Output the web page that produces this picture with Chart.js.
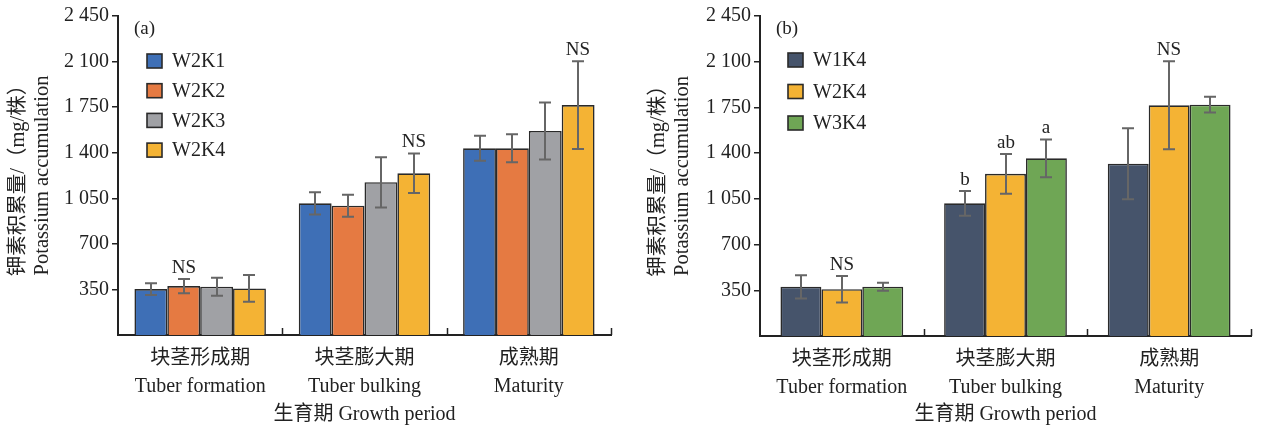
<!DOCTYPE html>
<html>
<head>
<meta charset="utf-8">
<script src="https://cdn.jsdelivr.net/npm/chart.js@4/dist/chart.umd.min.js"></script>
<style>
  html, body { margin: 0; padding: 0; background: #fff; }
  #wrap { position: relative; width: 1261px; height: 430px; overflow: hidden; }
  .panel { position: absolute; top: 0; height: 430px; }
  canvas { display: block; }
</style>
</head>
<body>
<div id="wrap">
  <div class="panel" style="left:0;width:630px"><canvas id="chartA" width="630" height="430"></canvas></div>
  <div class="panel" style="left:640px;width:621px"><canvas id="chartB" width="621" height="430"></canvas></div>
</div>
<script>
// Growth periods (x categories) and y-axis ticks
const periods = [['块茎形成期', 'Tuber formation'], ['块茎膨大期', 'Tuber bulking'], ['成熟期', 'Maturity']];
const yTicks = [350, 700, 1050, 1400, 1750, 2100, 2450];

// Potassium accumulation (mg/plant): means and error half-widths per treatment
const meanW2K1 = [353, 1011, 1434];
const errW2K1  = [45, 85, 96];
const meanW2K2 = [376, 993, 1434];
const errW2K2  = [55, 85, 107];
const meanW2K3 = [371, 1173, 1567];
const errW2K3  = [69, 193, 219];
const meanW2K4 = [358, 1242, 1766];
const errW2K4  = [102, 152, 337];
const meanW1K4 = [377, 1016, 1319];
const errW1K4  = [89, 95, 272];
const meanW3K4 = [377, 1360, 1771];
const errW3K4  = [31, 145, 60];

// Significance letters written above the bars
const sigA_W2K1 = ['', '', ''];
const sigA_W2K2 = ['NS', '', ''];
const sigA_W2K3 = ['', '', ''];
const sigA_W2K4 = ['', 'NS', 'NS'];
const sigB_W1K4 = ['', 'b', ''];
const sigB_W2K4 = ['NS', 'ab', 'NS'];
const sigB_W3K4 = ['', 'a', ''];

const COLORS = {
  W2K1: '#3e6fb6', W2K2: '#e57a42', W2K3: '#a0a1a5', W2K4: '#f4b334',
  W1K4: '#46546b', W3K4: '#6fa655'
};

const FONT = "'Liberation Serif', 'Noto Sans CJK SC', serif";
const INK = '#222';
Chart.defaults.font.family = FONT;
Chart.defaults.color = INK;

function ds(label, data, errors, letters) {
  return {
    label, data, errors, letters,
    backgroundColor: COLORS[label],
    borderColor: '#2a2a2a',
    borderWidth: 1.6
  };
}

function fmt(v) {
  return String(v).replace(/\B(?=(\d{3})+(?!\d))/g, ' ');
}

// Draws error bars, significance letters, inner x ticks, legend and panel tag
const decorations = {
  id: 'decorations',
  afterDatasetsDraw(chart, args, opts) {
    const { ctx, chartArea, scales: { x, y } } = chart;
    ctx.save();

    // short upward ticks on the x axis at category boundaries
    const n = chart.data.labels.length;
    const half = (x.getPixelForValue(1) - x.getPixelForValue(0)) / 2;
    ctx.strokeStyle = INK;
    ctx.lineWidth = 1.5;
    for (let i = 1; i <= n; i++) {
      const px = Math.round(x.getPixelForValue(i - 1) + half) + 0.5;
      ctx.beginPath();
      ctx.moveTo(px, chartArea.bottom);
      ctx.lineTo(px, chartArea.bottom - 7);
      ctx.stroke();
    }

    // error bars and letters
    chart.data.datasets.forEach((d, di) => {
      const meta = chart.getDatasetMeta(di);
      meta.data.forEach((bar, i) => {
        const v = d.data[i], e = d.errors[i];
        const yt = y.getPixelForValue(v + e);
        const yb = y.getPixelForValue(v - e);
        const bx = Math.round(bar.x);
        ctx.strokeStyle = '#666';
        ctx.lineWidth = 2;
        ctx.beginPath();
        ctx.moveTo(bx, yt); ctx.lineTo(bx, yb);
        ctx.moveTo(bx - 6, yt); ctx.lineTo(bx + 6, yt);
        ctx.moveTo(bx - 6, yb); ctx.lineTo(bx + 6, yb);
        ctx.stroke();
        const t = d.letters[i];
        if (t) {
          ctx.fillStyle = INK;
          ctx.font = `19px ${FONT}`;
          ctx.textAlign = 'center';
          ctx.textBaseline = 'alphabetic';
          ctx.fillText(t, bx, yt - 6);
        }
      });
    });

    // legend
    const lx = chartArea.left + opts.legendX;
    chart.data.datasets.forEach((d, di) => {
      const cy = chartArea.top + opts.legendY + di * opts.legendGap;
      ctx.fillStyle = d.backgroundColor;
      ctx.fillRect(lx, cy - 7, 15, 14);
      ctx.strokeStyle = '#2a2a2a';
      ctx.lineWidth = 1.6;
      ctx.strokeRect(lx, cy - 7, 15, 14);
      ctx.fillStyle = INK;
      ctx.font = `20px ${FONT}`;
      ctx.textAlign = 'left';
      ctx.textBaseline = 'middle';
      ctx.fillText(d.label, lx + 25, cy + 1);
    });

    // panel tag
    ctx.fillStyle = INK;
    ctx.font = `19px ${FONT}`;
    ctx.textAlign = 'left';
    ctx.textBaseline = 'middle';
    ctx.fillText(opts.tag, chartArea.left + 16, chartArea.top + 13);

    ctx.restore();
  }
};

function makeChart(id, datasets, cfg) {
  return new Chart(document.getElementById(id), {
    type: 'bar',
    data: { labels: periods, datasets },
    plugins: [decorations],
    options: {
      responsive: false,
      animation: false,
      devicePixelRatio: 1,
      layout: { padding: { left: 0, right: cfg.right, top: 16, bottom: 0 } },
      datasets: { bar: { categoryPercentage: cfg.catPct, barPercentage: 1 } },
      plugins: {
        legend: { display: false },
        tooltip: { enabled: false },
        decorations: cfg.deco
      },
      scales: {
        x: {
          type: 'category',
          offset: true,
          grid: { display: false },
          border: { display: true, color: INK, width: 2 },
          ticks: {
            padding: 2,
            maxRotation: 0,
            autoSkip: false,
            font: { size: 20, lineHeight: 1.38 },
            color: INK
          },
          title: {
            display: true,
            text: '生育期 Growth period',
            font: { size: 20, lineHeight: 1.2 },
            color: INK,
            padding: { top: 0, bottom: 3 }
          },
          afterFit: s => { s.height = cfg.xHeight; }
        },
        y: {
          min: 0,
          max: 2450,
          afterBuildTicks: s => { s.ticks = yTicks.map(v => ({ value: v })); },
          grid: {
            display: true,
            drawOnChartArea: false,
            drawTicks: true,
            tickLength: 6,
            color: INK,
            lineWidth: 1.5
          },
          border: { display: true, color: INK, width: 2 },
          ticks: {
            padding: 3,
            font: { size: 20 },
            color: INK,
            callback: v => fmt(v)
          },
          title: {
            display: true,
            text: ['钾素积累量/（mg/株）', 'Potassium accumulation'],
            font: { size: 20.5, lineHeight: 1.15 },
            color: INK,
            padding: { top: 7, bottom: 0 }
          },
          afterFit: s => { s.width = cfg.yWidth; }
        }
      }
    }
  });
}

makeChart('chartA', [
  ds('W2K1', meanW2K1, errW2K1, sigA_W2K1),
  ds('W2K2', meanW2K2, errW2K2, sigA_W2K2),
  ds('W2K3', meanW2K3, errW2K3, sigA_W2K3),
  ds('W2K4', meanW2K4, errW2K4, sigA_W2K4)
], {
  right: 19, yWidth: 118, xHeight: 95, catPct: 0.8,
  deco: { tag: '(a)', legendX: 29, legendY: 45, legendGap: 29.7 }
});

makeChart('chartB', [
  ds('W1K4', meanW1K4, errW1K4, sigB_W1K4),
  ds('W2K4', meanW2K4, errW2K4, sigB_W2K4),
  ds('W3K4', meanW3K4, errW3K4, sigB_W3K4)
], {
  right: 10, yWidth: 120, xHeight: 94, catPct: 0.75,
  deco: { tag: '(b)', legendX: 28, legendY: 44, legendGap: 31.5 }
});
</script>
</body>
</html>
